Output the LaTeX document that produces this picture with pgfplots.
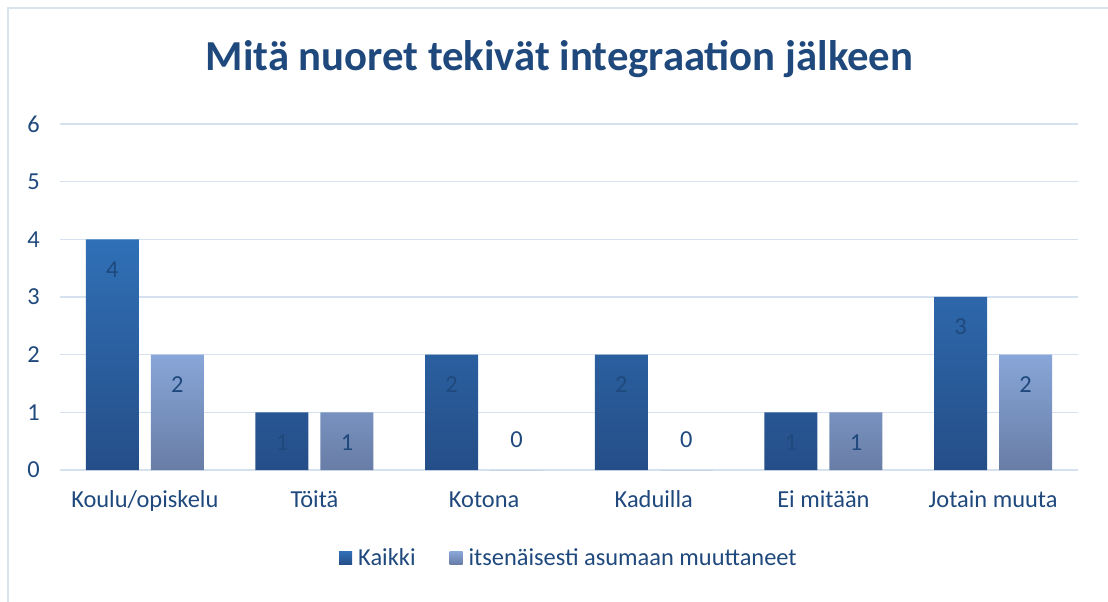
\documentclass[border=0pt]{standalone}
\usepackage{fontspec}
\setmainfont{Carlito}
\usepackage{pgfplots}
\pgfplotsset{compat=1.18}
\definecolor{txt}{RGB}{31,73,125}
\definecolor{gridc}{RGB}{214,225,240}
\definecolor{framec}{RGB}{218,228,241}
\definecolor{aTop}{RGB}{48,112,182}
\definecolor{aBot}{RGB}{37,78,136}
\definecolor{bTop}{RGB}{136,166,216}
\definecolor{bBot}{RGB}{104,125,166}
\begin{document}
\begin{tikzpicture}
\useasboundingbox (-60bp,-132bp) rectangle (1048bp,470bp);
\draw[framec, line width=1.5bp] (-52bp,-140bp) rectangle (1060bp,462bp);
\begin{axis}[
  at={(0,0)}, anchor=south west,
  scale only axis, width=1018bp, height=346bp,
  xmin=-0.5, xmax=5.5, ymin=0, ymax=6,
  ytick={0,1,2,3,4,5,6},
  xtick={0,1,2,3,4,5},
  xticklabels={Koulu/opiskelu, Töitä, Kotona, Kaduilla, Ei mitään, Jotain muuta},
  ymajorgrids, grid style={gridc, line width=1.2bp},
  axis line style={draw=none},
  major tick length=0pt,
  /pgf/number format/assume math mode=true,
  yticklabel style={font=\fontsize{24.5}{29}\selectfont, text=txt, anchor=east, inner sep=0pt, xshift=-20bp},
  xticklabel style={font=\fontsize{24.5}{29}\selectfont, text=txt, anchor=base, inner sep=0pt, yshift=-37bp},
  title={Mitä nuoret tekivät integraation jälkeen},
  title style={at={(0.4907,1.1387)}, anchor=base, inner sep=0pt, font=\fontsize{42.9}{50}\selectfont\bfseries, text=txt},
  legend style={at={(0.5,-0.254)}, anchor=center, draw=none, fill=none, legend columns=-1,
    font=\fontsize{24.5}{29}\selectfont, text=txt,
    /tikz/every even column/.append style={column sep=32bp}},
  legend image code/.code={\path (0bp,0bp) -- (17bp,0bp); \path[#1, draw=none] (0bp,-6.5bp) rectangle (13bp,6.5bp);},
  nodes near coords,
  visualization depends on={y \as \rawy},
  every node near coord/.append style={font=\fontsize{24.5}{29}\selectfont, text=txt, anchor=center, inner sep=0pt,
    yshift={ifthenelse(\rawy<0.5,30,-30)*1bp}},
]
\addplot[ybar, bar width=53bp, bar shift=-32.5bp, draw=none, top color=aTop, bottom color=aBot,
  every node near coord/.append style={xshift=-32.5bp}]
  coordinates {(0,4) (1,1) (2,2) (3,2) (4,1) (5,3)};
\addlegendentry{Kaikki}
\addplot[ybar, bar width=53bp, bar shift=32.5bp, draw=none, top color=bTop, bottom color=bBot,
  every node near coord/.append style={xshift=32.5bp}]
  coordinates {(0,2) (1,1) (2,0) (3,0) (4,1) (5,2)};
\addlegendentry{itsenäisesti asumaan muuttaneet}
\end{axis}
\end{tikzpicture}
\end{document}
